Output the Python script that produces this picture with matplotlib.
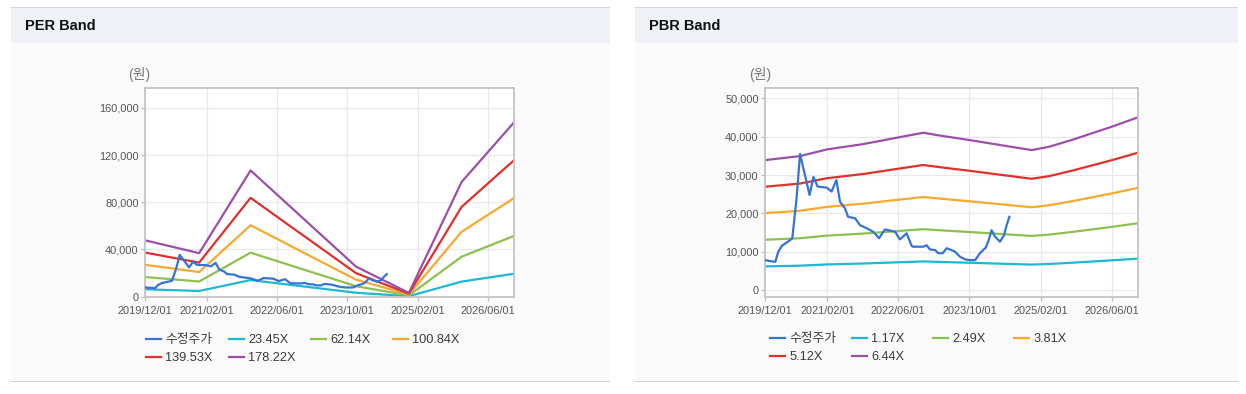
import matplotlib
matplotlib.use('Agg')
import matplotlib.pyplot as plt
from matplotlib.patches import Rectangle
from matplotlib.ticker import FuncFormatter
import pandas as pd

plt.rcParams['font.family'] = ['Liberation Sans', 'Noto Sans CJK KR']

# ---------------- data ----------------
price_dates = ['2019-12-01', '2020-01-25', '2020-02-10', '2020-03-01', '2020-03-25', '2020-05-20',
               '2020-06-05', '2020-07-05', '2020-07-28', '2020-08-18', '2020-09-12', '2020-10-01',
               '2020-10-28', '2020-11-25', '2021-01-28', '2021-03-01', '2021-04-03', '2021-04-28',
               '2021-06-01', '2021-06-22', '2021-08-10', '2021-09-12', '2021-10-28', '2021-12-12',
               '2022-01-20', '2022-03-01', '2022-05-10', '2022-06-12', '2022-07-28', '2022-09-01',
               '2022-09-10', '2022-11-20', '2022-12-12', '2023-01-03', '2023-02-10', '2023-03-01',
               '2023-04-01', '2023-04-28', '2023-06-01', '2023-06-25', '2023-07-28', '2023-09-01',
               '2023-10-03', '2023-11-10', '2023-12-12', '2024-01-22', '2024-02-10', '2024-03-01',
               '2024-03-25', '2024-04-28', '2024-05-25', '2024-06-12', '2024-07-01']
price_values = [7800, 7400, 7400, 10000, 11500, 13000,
                13500, 24300, 35500, 32000, 28000, 24800,
                29500, 27000, 26700, 25700, 28700, 23000,
                21300, 19100, 18700, 16900, 16100, 15200,
                13500, 15800, 15200, 13200, 14800, 11500,
                11300, 11300, 11700, 10600, 10400, 9600,
                9600, 10900, 10400, 10000, 8700, 8000,
                7800, 7800, 9600, 11100, 13000, 15600,
                13900, 12600, 14300, 16900, 19100]

per_dates = ['2019-12-01', '2020-12-10', '2021-12-01', '2023-12-01', '2024-12-01', '2025-12-01', '2026-12-01']
per_labels = ['23.45X', '62.14X', '100.84X', '139.53X', '178.22X']
per_23_45 = [6285, 4854, 14070, 3353, 422, 12780, 19464]
per_62_14 = [16654, 12863, 37284, 8886, 1119, 33866, 51576]
per_100_84 = [27025, 20874, 60504, 14420, 1815, 54958, 83697]
per_139_53 = [37394, 28883, 83718, 19953, 2512, 76044, 115810]
per_178_22 = [47763, 36892, 106932, 25485, 3208, 97130, 147923]

pbr_dates = ['2019-12-01', '2020-07-28', '2021-01-28', '2021-10-04', '2022-06-01', '2022-11-19',
             '2023-04-01', '2023-10-04', '2024-06-13', '2024-12-01', '2025-04-01', '2025-09-13',
             '2026-06-01', '2026-12-01']
pbr_labels = ['1.17X', '2.49X', '3.81X', '5.12X', '6.44X']
pbr_1_17 = [6159, 6350, 6666, 6918, 7234, 7456, 7303, 7108, 6823, 6633, 6795, 7139, 7740, 8194]
pbr_2_49 = [13107, 13513, 14186, 14723, 15396, 15869, 15543, 15127, 14522, 14116, 14460, 15194, 16471, 17437]
pbr_3_81 = [20056, 20677, 21706, 22529, 23557, 24281, 23782, 23146, 22220, 21599, 22126, 23249, 25203, 26681]
pbr_5_12 = [26952, 27786, 29169, 30275, 31657, 32630, 31959, 31104, 29860, 29025, 29734, 31242, 33869, 35855]
pbr_6_44 = [33900, 34950, 36690, 38080, 39820, 41040, 40200, 39120, 37560, 36510, 37400, 39300, 42600, 45100]

x_tick_dates = ['2019-12-01', '2021-02-01', '2022-06-01', '2023-10-01', '2025-02-01', '2026-06-01']
x_tick_labels = ['2019/12/01', '2021/02/01', '2022/06/01', '2023/10/01', '2025/02/01', '2026/06/01']
per_yticks = [0, 40000, 80000, 120000, 160000]
pbr_yticks = [0, 10000, 20000, 30000, 40000, 50000]
price_label = '수정주가'

band_colors = ['#1fb8d3', '#8cc04f', '#f9a832', '#e0302b', '#9b4fa7']
price_color = '#3574d6'

# ---------------- figure ----------------
W, H = 1246, 394
fig = plt.figure(figsize=(W / 100, H / 100), dpi=100)
fig.patch.set_facecolor('white')


def rect(x0, y0, x1, y1, color):
    fig.patches.append(Rectangle((x0 / W, 1 - y1 / H), (x1 - x0) / W, (y1 - y0) / H,
                                 transform=fig.transFigure, facecolor=color,
                                 edgecolor='none', zorder=-5))


def panel(x0, x1, title):
    rect(x0, 6.5, x1, 7.8, '#d4d6da')
    rect(x0, 7.8, x1, 42.5, '#eef1f6')
    rect(x0, 42.5, x1, 381, '#fafafa')
    rect(x0, 380.5, x1, 381.8, '#d0d0d0')
    fig.text((x0 + 14) / W, 1 - 26.5 / H, title, fontsize=10.5, fontweight='bold',
             color='#111111', va='center', ha='left')


panel(11, 610, 'PER Band')
panel(635, 1238, 'PBR Band')


def make_axes(x0, x1, y0, y1):
    ax = fig.add_axes([x0 / W, 1 - y1 / H, (x1 - x0) / W, (y1 - y0) / H])
    ax.set_zorder(2)
    ax.set_facecolor('white')
    for s in ax.spines.values():
        s.set_color('#c4c4c4')
        s.set_linewidth(1.3)
    ax.grid(True, color='#e8e8e8', linewidth=0.9)
    ax.set_axisbelow(True)
    ax.tick_params(axis='both', colors='#bbbbbb', labelcolor='#555555', labelsize=7.9,
                   length=3, width=0.9)
    ax.tick_params(axis='y', pad=1.5)
    ax.tick_params(axis='x', pad=4)
    return ax


def draw(ax, band_dates, bands, labels, ylim, yticks, col_x, row_y):
    xd = pd.to_datetime(band_dates)
    handles = []
    for vals, lab, col in zip(bands, labels, band_colors):
        h, = ax.plot(xd, vals, color=col, lw=1.6, label=lab, zorder=2)
        handles.append(h)
    hp, = ax.plot(pd.to_datetime(price_dates), price_values, color=price_color, lw=1.6,
                  label=price_label, zorder=3)
    ax.set_xlim(pd.Timestamp('2019-12-01'), pd.Timestamp('2026-12-01'))
    ax.set_ylim(*ylim)
    ax.set_xticks(pd.to_datetime(x_tick_dates))
    ax.set_xticklabels(x_tick_labels)
    ax.set_yticks(yticks)
    ax.yaxis.set_major_formatter(FuncFormatter(lambda v, p: f'{int(v):,}'))
    allh = [hp] + handles
    legs = []
    for i, h in enumerate(allh):
        r, c = divmod(i, 4)
        leg = ax.legend([h], [h.get_label()], loc='center left', frameon=False, fontsize=9.2,
                        bbox_to_anchor=(col_x[c] / W, 1 - row_y[r] / H),
                        bbox_transform=fig.transFigure, borderaxespad=0, borderpad=0,
                        handlelength=1.2, handletextpad=0.3)
        for t in leg.get_texts():
            t.set_color('#3a3a3a')
        legs.append(leg)
    for leg in legs[:-1]:
        ax.add_artist(leg)


ax1 = make_axes(145, 514.3, 87.7, 296.7)
draw(ax1, per_dates, [per_23_45, per_62_14, per_100_84, per_139_53, per_178_22], per_labels,
     (0, 177000), per_yticks, [146, 229, 311, 393], [340, 358])
fig.text(139 / W, 1 - 74.5 / H, '(원)', fontsize=10, color='#777777', ha='center', va='center')

ax2 = make_axes(765, 1138.3, 87.7, 296.7)
draw(ax2, pbr_dates, [pbr_1_17, pbr_2_49, pbr_3_81, pbr_5_12, pbr_6_44], pbr_labels,
     (-1750, 52800), pbr_yticks, [770, 852, 933, 1014], [339, 357])
fig.text(760 / W, 1 - 74.5 / H, '(원)', fontsize=10, color='#777777', ha='center', va='center')

fig.savefig('out.png', dpi=100, facecolor='white')
